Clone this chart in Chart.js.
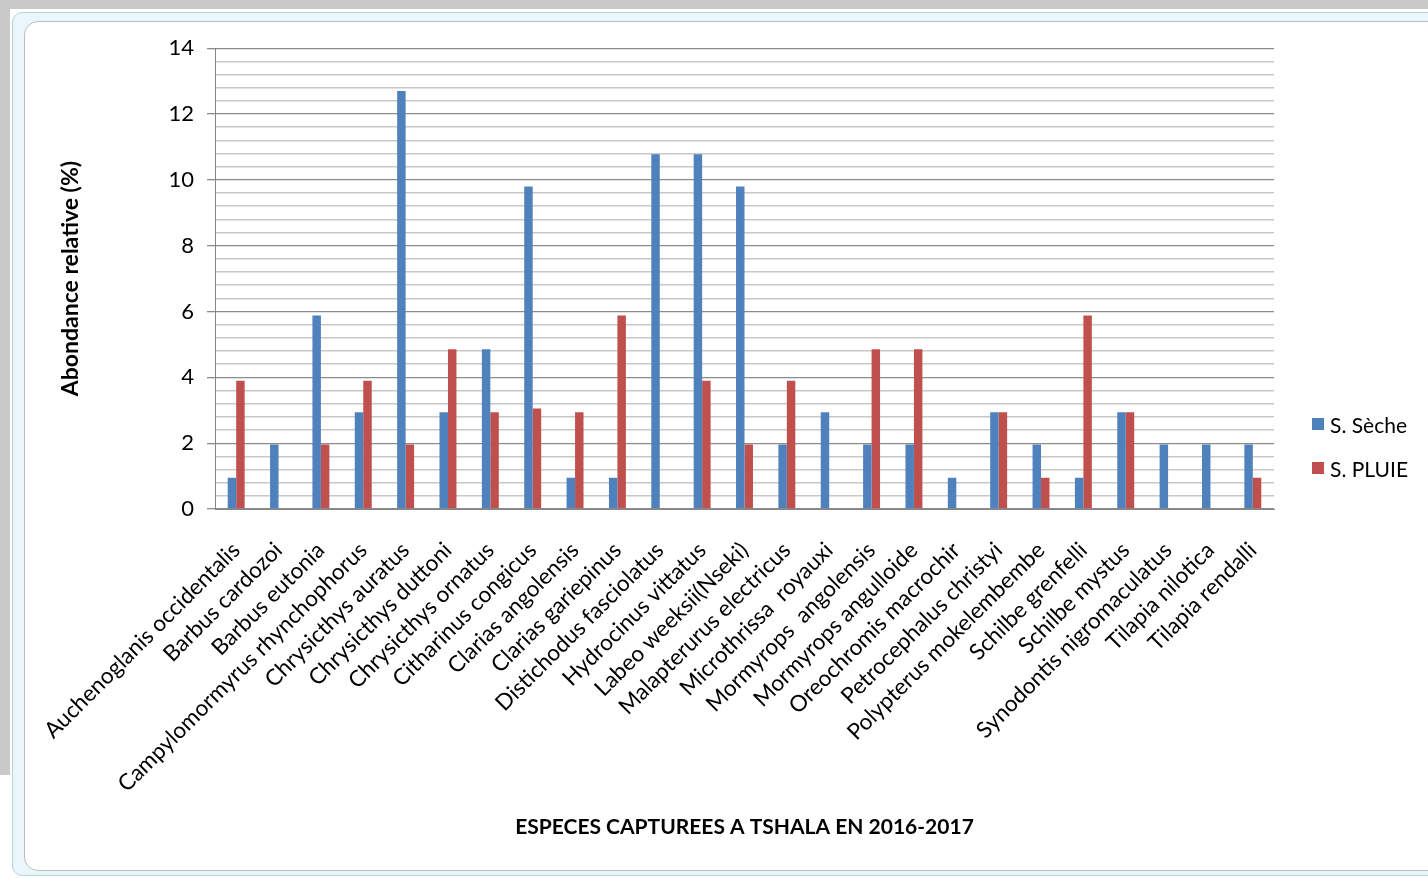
<!DOCTYPE html>
<html>
<head>
<meta charset="utf-8">
<script src="https://cdn.jsdelivr.net/npm/chart.js@4.4.1/dist/chart.umd.min.js"></script>
<style>
  html, body { margin: 0; padding: 0; }
  body { width: 1428px; height: 879px; position: relative; overflow: hidden; background: #fff; font-family: Lato, sans-serif; }
  .xl-top { position: absolute; left: 0; top: 0; width: 1428px; height: 9px; background: #c9c9c9; }
  .xl-left { position: absolute; left: 0; top: 0; width: 10px; height: 775px; background: #c9c9c9; }
  .frame { position: absolute; left: 12px; top: 12px; width: 1440px; height: 862px; background: #eaf6fa; border: 1px solid #b5d3df; border-radius: 10px; }
  .inner { position: absolute; left: 24px; top: 21px; width: 1430px; height: 848px; background: #fff; border: 1px solid #bcbcbc; border-radius: 14px; }
  #wrap { position: absolute; left: 25px; top: 22px; width: 1395px; height: 845px; }
  .legend { position: absolute; left: 1312px; top: 402px; font-family: Lato, sans-serif; font-size: 21px; color: #000; }
  .legend div { height: 44px; display: flex; align-items: center; }
  .legend span.sw { display: inline-block; width: 12px; height: 12px; margin-right: 6px; }
</style>
</head>
<body>
<div class="xl-top"></div>
<div class="xl-left"></div>
<div class="frame"></div>
<div class="inner"></div>
<div id="wrap"><canvas id="chart"></canvas></div>
<div class="legend" id="legend"></div>
<script>
// espèces capturées
const species = [
  'Auchenoglanis occidentalis', 'Barbus cardozoi', 'Barbus eutonia',
  'Campylomormyrus rhynchophorus', 'Chrysicthys auratus', 'Chrysicthys duttoni',
  'Chrysicthys ornatus', 'Citharinus congicus', 'Clarias angolensis',
  'Clarias gariepinus', 'Distichodus fasciolatus', 'Hydrocinus vittatus',
  'Labeo weeksii(Nseki)', 'Malapterurus electricus', 'Microthrissa  royauxi',
  'Mormyrops  angolensis', 'Mormyrops angulloide', 'Oreochromis macrochir',
  'Petrocephalus christyi', 'Polypterus mokelembembe', 'Schilbe grenfelli',
  'Schilbe mystus', 'Synodontis nigromaculatus', 'Tilapia nilotica', 'Tilapia rendalli'
];

// abondance relative (%) saison sèche
const seche = [
  0.95, 1.96, 5.88, 2.94, 12.7, 2.94, 4.85, 9.8, 0.95, 0.95, 10.78, 10.78, 9.8,
  1.96, 2.94, 1.96, 1.96, 0.95, 2.94, 1.96, 0.95, 2.94, 1.96, 1.96, 1.96
];

// abondance relative (%) saison des pluies
const pluie = [
  3.9, 0, 1.96, 3.9, 1.96, 4.85, 2.94, 3.05, 2.94, 5.88, 0, 3.9, 1.96,
  3.9, 0, 4.85, 4.85, 0, 2.94, 0.95, 5.88, 2.94, 0, 0, 0.95
];

const seriesNames = ['S. Sèche', 'S. PLUIE'];
const seriesColors = ['#4f81bd', '#c0504d'];

const yTitle = 'Abondance relative (%)';
const xTitle = 'ESPECES CAPTUREES A TSHALA EN 2016-2017';

// graduation majeure tous les 2, mineure tous les 0.4
const isMajor = v => Math.abs(v / 2 - Math.round(v / 2)) < 1e-6;

const canvas = document.getElementById('chart');
new Chart(canvas, {
  type: 'bar',
  data: {
    labels: species,
    datasets: [
      { label: seriesNames[0], data: seche, backgroundColor: seriesColors[0] },
      { label: seriesNames[1], data: pluie, backgroundColor: seriesColors[1] }
    ]
  },
  options: {
    responsive: true,
    maintainAspectRatio: false,
    animation: false,
    datasets: { bar: { categoryPercentage: 0.40, barPercentage: 1.0 } },
    layout: { padding: { left: 0, right: 146, top: 25, bottom: 0 } },
    plugins: {
      legend: { display: false },
      tooltip: { enabled: false }
    },
    scales: {
      x: {
        // hauteur fixe et pas de marge pour les étiquettes inclinées
        afterFit: s => { s.height = 358; s.paddingLeft = 0; s.paddingRight = 0; },
        grid: { display: false, drawTicks: false },
        border: { color: '#868686', width: 1 },
        ticks: {
          color: '#000',
          font: { family: 'Lato', size: 22.5 },
          maxRotation: 45,
          minRotation: 45,
          autoSkip: false,
          padding: 28
        },
        title: {
          display: true,
          text: xTitle,
          color: '#000',
          font: { family: 'Lato', size: 21, weight: 'bold' },
          padding: { top: 0, bottom: 27 }
        }
      },
      y: {
        min: 0,
        max: 14,
        afterFit: s => { s.width = 190; },
        border: { color: '#868686', width: 1 },
        grid: {
          color: ctx => isMajor(ctx.tick.value) ? '#8c8c8c' : '#c8c8c8',
          lineWidth: ctx => isMajor(ctx.tick.value) ? 1.3 : 1.6,
          tickColor: ctx => isMajor(ctx.tick.value) ? '#8c8c8c' : 'rgba(0,0,0,0)',
          tickLength: 8
        },
        ticks: {
          stepSize: 0.4,
          autoSkip: false,
          color: '#000',
          padding: 13,
          font: { family: 'Lato', size: 22 },
          callback: v => isMajor(v) ? String(Math.round(v)) : ''
        },
        title: {
          display: true,
          text: yTitle,
          color: '#000',
          font: { family: 'Lato', size: 23, weight: 'bold' },
          padding: { top: 32 }
        }
      }
    }
  }
});

// légende à droite, comme dans Excel
const legend = document.getElementById('legend');
seriesNames.forEach((name, i) => {
  const row = document.createElement('div');
  row.innerHTML = '<span class="sw" style="background:' + seriesColors[i] + '"></span>' + name;
  legend.appendChild(row);
});
</script>
</body>
</html>
